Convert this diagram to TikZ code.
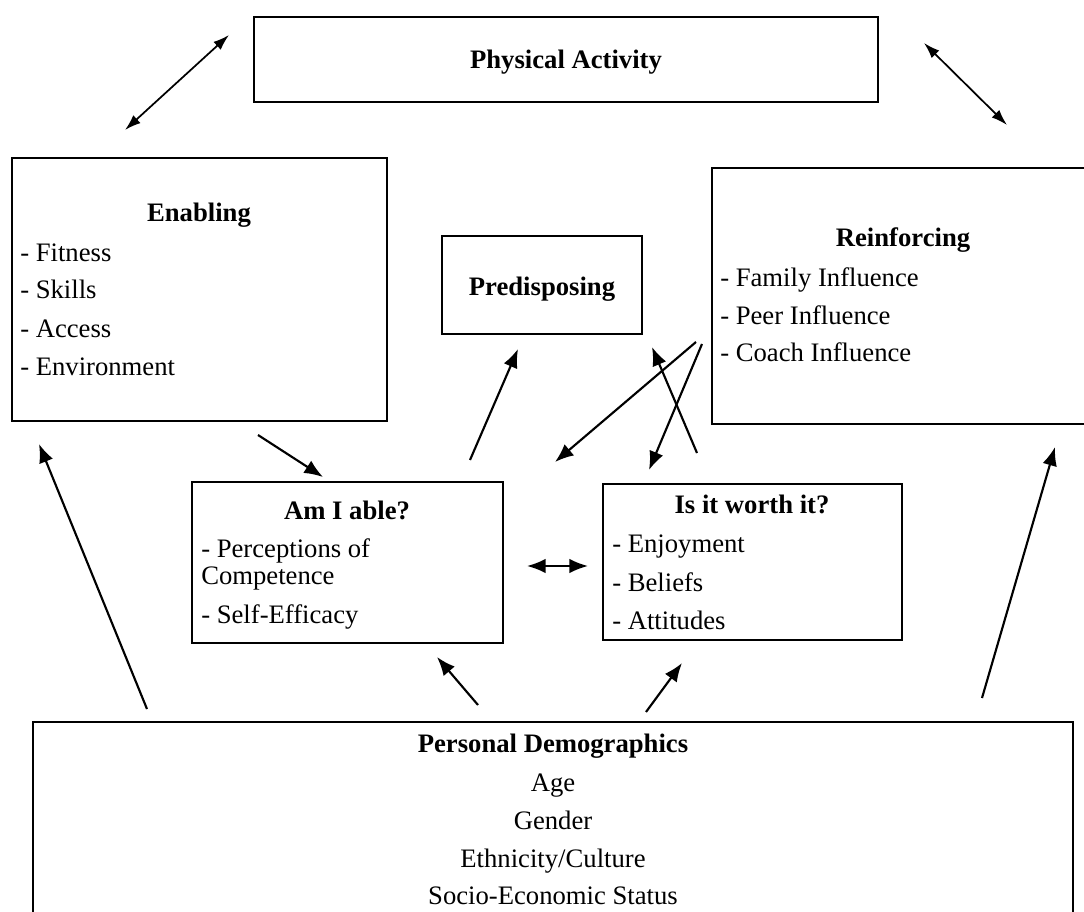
\documentclass[tikz,border=0pt]{standalone}
\usepackage{fontspec}
\setmainfont{Liberation Serif}
\usetikzlibrary{arrows.meta,fit}
\begin{document}
\begin{tikzpicture}[x=0.75pt,y=-0.75pt,
  box/.style={draw,line width=1.8pt,inner sep=0pt},
  txt/.style={anchor=base,inner sep=0pt,font=\fontsize{20}{24}\selectfont},
  ttl/.style={anchor=base,inner sep=0pt,font=\fontsize{20}{24}\selectfont\bfseries},
  item/.style={anchor=base west,inner sep=0pt,font=\fontsize{20}{24}\selectfont},
  conn/.style={line width=1.6pt,-{Latex[length=14pt,width=11pt]}},
  dconn/.style={line width=1.6pt,{Latex[length=14pt,width=11pt]}-{Latex[length=14pt,width=11pt]}},
  tconn/.style={line width=1.3pt,{Latex[length=12pt,width=8pt]}-{Latex[length=12pt,width=8pt]}}]
\useasboundingbox (0,0) rectangle (1084,912);
\clip (0,0) rectangle (1084,912);
\fill[white] (0,0) rectangle (1084,912);

% boxes
\node[box,fit={(254,17) (878,102)}] (pa) {};
\node[box,fit={(12,158) (387,421)}] (en) {};
\node[box,fit={(442,236) (642,334)}] (pr) {};
\node[box,fit={(712,168) (1100,424)}] (re) {};
\node[box,fit={(192,482) (503,643)}] (ab) {};
\node[box,fit={(603,484) (902,640)}] (wo) {};
\node[box,fit={(33,722) (1073,940)}] (pd) {};

% texts
\node[ttl] (paT) at (566,69) {Physical Activity};

\node[ttl] (enT) at (199,222) {Enabling};
\node[item] (en1) at (20,262) {- Fitness};
\node[item] (en2) at (20,299) {- Skills};
\node[item] (en3) at (20,338) {- Access};
\node[item] (en4) at (20,376) {- Environment};

\node[ttl] (prT) at (542,296) {Predisposing};

\node[ttl] (reT) at (903,247) {Reinforcing};
\node[item] (re1) at (720,287) {- Family Influence};
\node[item] (re2) at (720,325) {- Peer Influence};
\node[item] (re3) at (720,362) {- Coach Influence};

\node[ttl] (abT) at (347,519) {Am I able?};
\node[item] (ab1) at (201,557) {- Perceptions of};
\node[item] (ab2) at (201,584) {Competence};
\node[item] (ab3) at (201,623) {- Self-Efficacy};

\node[ttl] (woT) at (752,513) {Is it worth it?};
\node[item] (wo1) at (612,552) {- Enjoyment};
\node[item] (wo2) at (612,591) {- Beliefs};
\node[item] (wo3) at (612,629) {- Attitudes};

\node[ttl] (pdT) at (553,752) {Personal Demographics};
\node[txt] (pd1) at (553,791) {Age};
\node[txt] (pd2) at (553,829) {Gender};
\node[txt] (pd3) at (553,867) {Ethnicity/Culture};
\node[txt] (pd4) at (553,904) {Socio-Economic Status};

% connector end points
\coordinate (a1s) at (125,130); \coordinate (a1e) at (229,35);
\coordinate (a2s) at (924,43);  \coordinate (a2e) at (1007,125);
\coordinate (a3s) at (258,435); \coordinate (a3e) at (323,477);
\coordinate (a4s) at (470,460); \coordinate (a4e) at (518,349);
\coordinate (a5s) at (696,342); \coordinate (a5e) at (555,462);
\coordinate (a6s) at (702,344); \coordinate (a6e) at (649,470);
\coordinate (a7s) at (697,453); \coordinate (a7e) at (652,347);
\coordinate (a8s) at (527,566); \coordinate (a8e) at (588,566);
\coordinate (a9s) at (147,709); \coordinate (a9e) at (39,444);
\coordinate (a10s) at (478,705); \coordinate (a10e) at (437,657);
\coordinate (a11s) at (646,712); \coordinate (a11e) at (682,663);
\coordinate (a12s) at (982,698); \coordinate (a12e) at (1055,447);

\draw[tconn] (a1s) -- (a1e);
\draw[tconn] (a2s) -- (a2e);
\draw[conn] (a3s) -- (a3e);
\draw[conn] (a4s) -- (a4e);
\draw[conn] (a5s) -- (a5e);
\draw[conn] (a6s) -- (a6e);
\draw[conn] (a7s) -- (a7e);
\draw[dconn] (a8s) -- (a8e);
\draw[conn] (a9s) -- (a9e);
\draw[conn] (a10s) -- (a10e);
\draw[conn] (a11s) -- (a11e);
\draw[conn] (a12s) -- (a12e);
\end{tikzpicture}
\end{document}
